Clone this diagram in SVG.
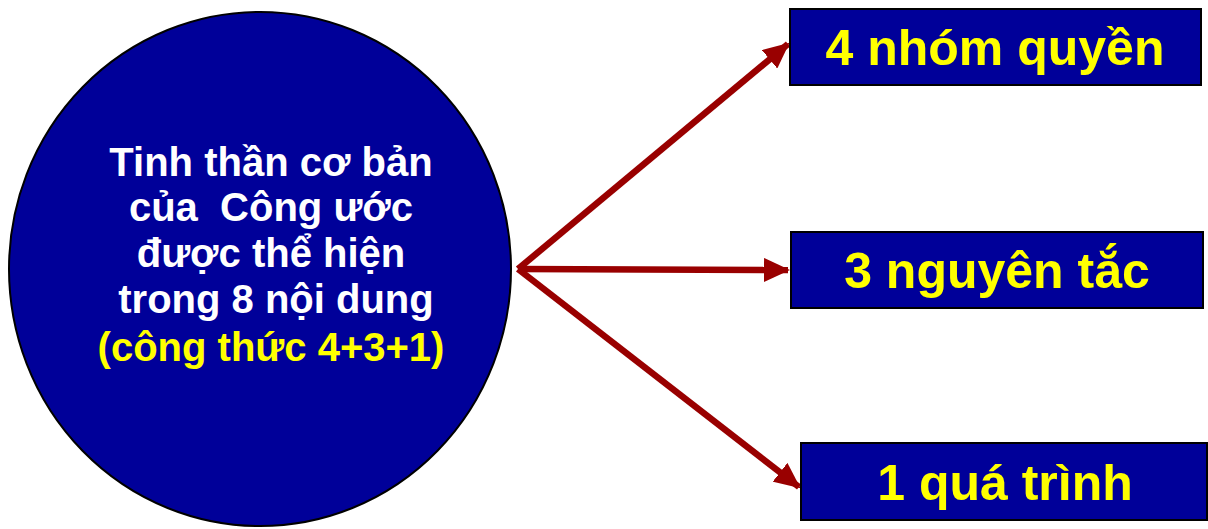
<svg xmlns="http://www.w3.org/2000/svg" width="1208" height="529" viewBox="0 0 1208 529">
<style>
.node{fill:#000099;stroke:#000;stroke-width:2}
.t{font-family:"Liberation Sans",Arial,sans-serif;font-weight:bold;text-anchor:middle}
.w{fill:#fff;font-size:40px}
.y{fill:#ffff00}
.b{font-size:50px;fill:#ffff00}
.c{stroke:#990000;stroke-width:6.5;fill:none}
</style>
<defs>
<marker id="ah" markerUnits="userSpaceOnUse" markerWidth="26" markerHeight="24" viewBox="0 0 26 24" refX="24" refY="12" orient="auto">
<path d="M0,0 L26,12 L0,24 Z" fill="#990000"/>
</marker>
</defs>
<rect width="1208" height="529" fill="#fff"/>
<g id="connectors">
<line class="c" x1="518" y1="269" x2="788" y2="44" marker-end="url(#ah)"/>
<line class="c" x1="518" y1="269" x2="788" y2="270" marker-end="url(#ah)"/>
<line class="c" x1="518" y1="269" x2="799" y2="487" marker-end="url(#ah)"/>
</g>
<g id="center">
<ellipse class="node" cx="260" cy="269" rx="251" ry="257"/>
<text class="t w" x="271" y="176">Tinh thần cơ bản</text>
<text class="t w" x="271" y="221" xml:space="preserve">của  Công ước</text>
<text class="t w" x="271" y="267">được thể hiện</text>
<text class="t w" x="276" y="313">trong 8 nội dung</text>
<text class="t w y" x="271" y="361">(công thức 4+3+1)</text>
</g>
<g id="box1">
<rect class="node" x="790" y="9" width="411" height="76"/>
<text class="t b" x="995" y="65">4 nhóm quyền</text>
</g>
<g id="box2">
<rect class="node" x="791" y="232" width="412" height="76"/>
<text class="t b" x="997" y="288">3 nguyên tắc</text>
</g>
<g id="box3">
<rect class="node" x="801" y="443" width="406" height="77"/>
<text class="t b" x="1005" y="500">1 quá trình</text>
</g>
</svg>
